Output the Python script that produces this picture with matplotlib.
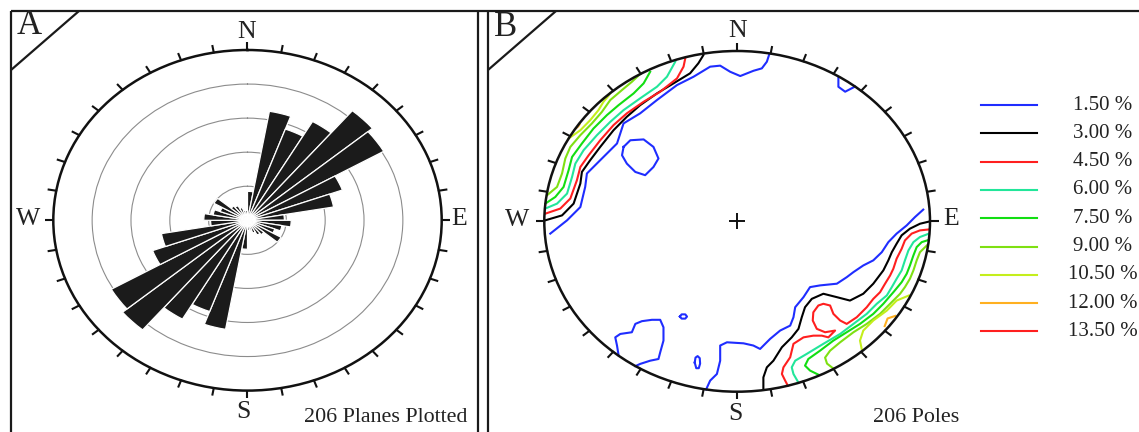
import numpy as np
import matplotlib
matplotlib.use('Agg')
import matplotlib.pyplot as plt
from matplotlib.patches import Circle

W, H = 1139, 432
plt.rcParams['font.family'] = ['Liberation Serif', 'DejaVu Serif']

# --- panel A: rose of strikes, petal length per 10 deg bin (fraction of net radius)
strike_bins = np.arange(0, 180, 10)
petal_len = np.array([0.17, 0.65, 0.57, 0.67, 0.84, 0.81, 0.52, 0.45, 0.19,
                      0.225, 0.18, 0.15, 0.20, 0.11, 0.10, 0.08, 0.06, 0.06])
rings = [0.2, 0.4, 0.6, 0.8]
n_planes = 206

# --- panel B: pole density contours
levels = ['1.50 %', '3.00 %', '4.50 %', '6.00 %', '7.50 %', '9.00 %',
          '10.50 %', '12.00 %', '13.50 %']
level_colors = ['#1f2dff', '#000000', '#ff1f1f', '#22e69a', '#12de12',
                '#7ee012', '#c4ee1c', '#ffb020', '#ff1f1f']
n_poles = 206

# contour polylines in net coordinates (x = east, y = north, primitive radius 1)
c150_nw = [(-0.969, -0.072), (-0.882, 0.006), (-0.813, 0.084), (-0.788, 0.202),
           (-0.779, 0.281), (-0.71, 0.359), (-0.623, 0.457), (-0.589, 0.575),
           (-0.503, 0.634), (-0.416, 0.712), (-0.312, 0.80), (-0.226, 0.849),
           (-0.14, 0.908), (-0.088, 0.914), (-0.036, 0.878), (0.016, 0.853),
           (0.085, 0.884), (0.128, 0.898), (0.154, 0.937), (0.167, 0.982)]
c150_loop_nw = [(-0.589, 0.437), (-0.554, 0.476), (-0.485, 0.481), (-0.434, 0.437),
                (-0.408, 0.369), (-0.434, 0.319), (-0.477, 0.271), (-0.528, 0.29),
                (-0.572, 0.339), (-0.597, 0.388), (-0.589, 0.437)]
c150_ne = [(0.525, 0.847), (0.525, 0.79), (0.56, 0.761), (0.594, 0.781), (0.611, 0.791)]
c150_se = [(0.965, 0.069), (0.922, 0.025), (0.879, -0.024), (0.827, -0.072),
           (0.784, -0.122), (0.75, -0.181), (0.706, -0.229), (0.654, -0.259),
           (0.603, -0.298), (0.568, -0.328), (0.517, -0.366), (0.43, -0.376),
           (0.378, -0.386), (0.344, -0.445), (0.301, -0.504), (0.292, -0.563),
           (0.275, -0.612), (0.223, -0.641), (0.171, -0.69), (0.119, -0.749),
           (0.084, -0.729), (0.033, -0.716), (-0.053, -0.71), (-0.088, -0.729),
           (-0.088, -0.818), (-0.105, -0.896), (-0.14, -0.935), (-0.161, -0.987)]
c150_sw = [(-0.615, -0.785), (-0.623, -0.729), (-0.632, -0.681), (-0.606, -0.661),
           (-0.546, -0.651), (-0.528, -0.602), (-0.494, -0.586), (-0.442, -0.578),
           (-0.399, -0.578), (-0.382, -0.622), (-0.382, -0.70), (-0.399, -0.769),
           (-0.408, -0.808), (-0.451, -0.818), (-0.503, -0.837), (-0.528, -0.85)]
c150_dot1 = [(-0.297, -0.559), (-0.288, -0.546), (-0.269, -0.546), (-0.26, -0.559),
             (-0.269, -0.571), (-0.288, -0.571), (-0.297, -0.559)]
c150_dot2 = [(-0.22, -0.829), (-0.216, -0.80), (-0.205, -0.791), (-0.194, -0.803),
             (-0.192, -0.835), (-0.199, -0.862), (-0.212, -0.862), (-0.22, -0.829)]

c300_nw = [(-0.995, 0.006), (-0.908, 0.035), (-0.848, 0.104), (-0.813, 0.222),
           (-0.805, 0.29), (-0.762, 0.359), (-0.71, 0.437), (-0.641, 0.535),
           (-0.572, 0.614), (-0.503, 0.682), (-0.416, 0.751), (-0.33, 0.81),
           (-0.244, 0.869), (-0.201, 0.928), (-0.175, 0.976)]
c300_se = [(1.0, 0.0), (0.948, -0.014), (0.896, -0.043), (0.853, -0.082),
           (0.827, -0.131), (0.802, -0.181), (0.784, -0.229), (0.758, -0.288),
           (0.706, -0.366), (0.654, -0.425), (0.585, -0.465), (0.517, -0.445),
           (0.447, -0.425), (0.387, -0.455), (0.352, -0.504), (0.335, -0.563),
           (0.318, -0.631), (0.283, -0.681), (0.232, -0.739), (0.188, -0.818),
           (0.154, -0.857), (0.136, -0.916), (0.136, -0.985)]

c450_nw = [(-0.995, 0.045), (-0.917, 0.075), (-0.865, 0.134), (-0.831, 0.241),
           (-0.813, 0.319), (-0.77, 0.388), (-0.71, 0.476), (-0.641, 0.565),
           (-0.572, 0.634), (-0.485, 0.702), (-0.399, 0.761), (-0.312, 0.839),
           (-0.278, 0.908), (-0.269, 0.957)]
c450_se = [(0.999, -0.047), (0.948, -0.053), (0.905, -0.072), (0.87, -0.112),
           (0.853, -0.161), (0.827, -0.219), (0.81, -0.278), (0.793, -0.318),
           (0.767, -0.366), (0.741, -0.416), (0.706, -0.455), (0.672, -0.504),
           (0.62, -0.563), (0.568, -0.602), (0.534, -0.582), (0.499, -0.543),
           (0.482, -0.494), (0.447, -0.484), (0.421, -0.494), (0.395, -0.534),
           (0.392, -0.582), (0.413, -0.631), (0.456, -0.651), (0.508, -0.641),
           (0.473, -0.681), (0.439, -0.671), (0.395, -0.671), (0.344, -0.681),
           (0.292, -0.719), (0.275, -0.798), (0.24, -0.857), (0.232, -0.896),
           (0.249, -0.935), (0.263, -0.965)]

c600_nw = [(-0.995, 0.075), (-0.934, 0.104), (-0.882, 0.163), (-0.856, 0.261),
           (-0.839, 0.339), (-0.796, 0.418), (-0.727, 0.506), (-0.658, 0.584),
           (-0.589, 0.653), (-0.503, 0.722), (-0.416, 0.79), (-0.364, 0.849),
           (-0.321, 0.937)]
c600_se = [(0.997, -0.071), (0.948, -0.092), (0.914, -0.122), (0.888, -0.171),
           (0.87, -0.229), (0.853, -0.288), (0.827, -0.337), (0.802, -0.386),
           (0.776, -0.435), (0.724, -0.484), (0.672, -0.543), (0.603, -0.602),
           (0.534, -0.661), (0.447, -0.719), (0.361, -0.778), (0.301, -0.818),
           (0.283, -0.857), (0.292, -0.896), (0.318, -0.947)]

c750_nw = [(-0.995, 0.104), (-0.943, 0.143), (-0.90, 0.202), (-0.874, 0.30),
           (-0.856, 0.378), (-0.805, 0.457), (-0.745, 0.545), (-0.675, 0.624),
           (-0.615, 0.682), (-0.537, 0.751), (-0.485, 0.81), (-0.451, 0.878)]
c750_se = [(0.996, -0.108), (0.957, -0.122), (0.931, -0.151), (0.914, -0.20),
           (0.896, -0.259), (0.879, -0.308), (0.853, -0.357), (0.813, -0.412),
           (0.758, -0.484), (0.706, -0.543), (0.637, -0.602), (0.568, -0.651),
           (0.499, -0.70), (0.43, -0.759), (0.369, -0.808), (0.352, -0.847),
           (0.378, -0.876), (0.421, -0.90)]

c900_nw = [(-0.986, 0.153), (-0.934, 0.202), (-0.908, 0.281), (-0.891, 0.369),
           (-0.865, 0.437), (-0.813, 0.506), (-0.753, 0.575), (-0.701, 0.643),
           (-0.658, 0.712), (-0.597, 0.771), (-0.546, 0.819), (-0.503, 0.865)]
c900_se = [(0.984, -0.141), (0.948, -0.181), (0.931, -0.229), (0.914, -0.288),
           (0.896, -0.337), (0.87, -0.386), (0.845, -0.425), (0.793, -0.484),
           (0.741, -0.543), (0.672, -0.602), (0.603, -0.651), (0.534, -0.71),
           (0.482, -0.759), (0.456, -0.80), (0.466, -0.835), (0.50, -0.865)]

c1050_nw = [(-0.874, 0.486), (-0.813, 0.535), (-0.762, 0.594), (-0.719, 0.653),
            (-0.693, 0.702), (-0.667, 0.737), (-0.658, 0.753)]
c1050_se = [(0.891, -0.435), (0.827, -0.465), (0.776, -0.524), (0.706, -0.582),
            (0.654, -0.641), (0.637, -0.70), (0.646, -0.75)]

c1200_nw = [(-0.834, 0.548), (-0.824, 0.557), (-0.817, 0.57)]
c1200_se = [(0.765, -0.615), (0.78, -0.57), (0.82, -0.555)]

contour_lines = [
    (0, c150_nw), (0, c150_loop_nw), (0, c150_ne), (0, c150_se), (0, c150_sw),
    (0, c150_dot1), (0, c150_dot2),
    (1, c300_nw), (1, c300_se),
    (2, c450_nw), (2, c450_se),
    (3, c600_nw), (3, c600_se),
    (4, c750_nw), (4, c750_se),
    (5, c900_nw), (5, c900_se),
    (6, c1050_nw), (6, c1050_se),
    (7, c1200_nw), (7, c1200_se),
]

fig = plt.figure(figsize=(W / 100, H / 100), dpi=100)

# overlay in pixel units for frames and lettering
ov = fig.add_axes([0, 0, 1, 1])
ov.set_xlim(0, W)
ov.set_ylim(H, 0)
ov.axis('off')
frame = dict(color='#1a1a1a', lw=1.6, solid_capstyle='butt')
ov.plot([10.5, W], [11, 11], **frame)
ov.plot([11, 11], [11, H], **frame)
ov.plot([478, 478], [11, H], **frame)
ov.plot([488, 488], [11, H], **frame)
ov.plot([11, 79], [70, 11], **frame)
ov.plot([488, 556], [70, 11], **frame)
ov.text(29, 26, 'A', fontsize=25, ha='center', va='center', color='#222222')
ov.text(506, 28, 'B', fontsize=25, ha='center', va='center', color='#222222')

lab = dict(fontsize=18.5, ha='center', va='center', color='#222222')
for s, x, y in [('N', 247, 32), ('S', 243, 412), ('W', 28, 219), ('E', 459, 219),
                ('N', 738, 31), ('S', 735, 414), ('W', 517, 220), ('E', 951, 219)]:
    ov.text(x, y, s, **lab)
ov.text(467, 417, f'{n_planes} Planes Plotted', fontsize=15.8, ha='right',
        va='center', color='#222222')
ov.text(916, 418, f'{n_poles} Poles', fontsize=15.8, ha='center', va='center',
        color='#222222')

# legend
for i, (name, col) in enumerate(zip(levels, level_colors)):
    y = 105 + i * 28.3
    ov.plot([981, 1037], [y, y], color=col, lw=1.5)
    ov.text(1103, y, name, fontsize=15, ha='center', va='center', color='#222222')

# panel A: rose diagram
axA = fig.add_axes([53.3 / W, 1 - 390.6 / H, 388.4 / W, 340.6 / H], projection='polar')
axA.set_aspect('auto')
axA.set_theta_zero_location('N')
axA.set_theta_direction(-1)
axA.set_ylim(0, 1)
axA.set_axisbelow(True)
axA.set_xticks([])
axA.set_yticks(rings, labels=[''] * len(rings))
axA.yaxis.grid(True, color='#8c8c8c', lw=0.8)
axA.xaxis.grid(False)
axA.tick_params(length=0)
axA.spines['polar'].set_linewidth(1.8)
axA.spines['polar'].set_color('#111111')
theta = np.deg2rad(np.concatenate([strike_bins, strike_bins + 180]) + 5)
axA.bar(theta, np.concatenate([petal_len, petal_len]), width=np.deg2rad(10),
        bottom=0, color='#1b1b1b', edgecolor='white', linewidth=0.9, zorder=2)
axA.scatter([0], [0], s=90, color='white', alpha=0.5, zorder=3, edgecolors='none')
axA.scatter([0], [0], s=30, color='white', alpha=0.9, zorder=3, edgecolors='none')
for a in range(0, 360, 10):
    t = np.deg2rad(a)
    axA.plot([t, t], [0.995, 1.045], color='#111111', lw=1.5, clip_on=False,
             solid_capstyle='butt')

# panel B: stereonet contours
axB = fig.add_axes([544.3 / W, 1 - 391.7 / H, 385.7 / W, 340.7 / H])
axB.set_xlim(-1, 1)
axB.set_ylim(-1, 1)
axB.axis('off')
axB.add_patch(Circle((0, 0), 1, fill=False, lw=1.8, ec='#111111', clip_on=False, zorder=3))
for a in range(0, 360, 10):
    t = np.deg2rad(a)
    axB.plot([0.995 * np.sin(t), 1.045 * np.sin(t)], [0.995 * np.cos(t), 1.045 * np.cos(t)],
             color='#111111', lw=1.5, clip_on=False, solid_capstyle='butt')
axB.plot([0], [0], marker='+', ms=11, mew=1.4, color='#111111')
for lvl, pts in contour_lines:
    arr = np.array(pts)
    axB.plot(arr[:, 0], arr[:, 1], color=level_colors[lvl], lw=1.5, zorder=2)

fig.savefig('out.png', dpi=100)
